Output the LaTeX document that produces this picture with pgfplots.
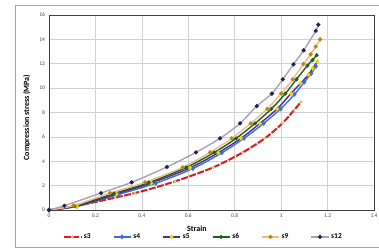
\documentclass[border=0pt]{standalone}
\usepackage{fontspec}
\setmainfont{Carlito}
\usepackage{pgfplots}
\pgfplotsset{compat=1.18}
\definecolor{frameblue}{HTML}{8FAACB}
\definecolor{sthree}{HTML}{D91C1C}
\definecolor{sthreem}{HTML}{9BBB59}
\definecolor{sfour}{HTML}{3C6FD0}
\definecolor{sfive}{HTML}{4B2C8C}
\definecolor{sfivem}{HTML}{F2CC0C}
\definecolor{ssix}{HTML}{1D611D}
\definecolor{snine}{HTML}{F2B98A}
\definecolor{sninem}{HTML}{B8860B}
\definecolor{stwelve}{HTML}{ABA0B5}
\definecolor{stwelvem}{HTML}{1C2452}
\begin{document}
\begin{tikzpicture}[x=1pt,y=1pt]
\useasboundingbox (0,0) rectangle (379,251);
\draw[frameblue, line width=0.8pt] (15,3.5) rectangle (390,245.3);
\begin{axis}[
  scale only axis, width=325pt, height=195pt,
  at={(49pt,41pt)}, anchor=south west,
  xmin=0, xmax=1.4, ymin=0, ymax=16,
  xtick={0,0.2,0.4,0.6,0.8,1,1.2,1.4},
  ytick={0,2,4,6,8,10,12,14,16},
  xticklabels={0,0.2,0.4,0.6,0.8,1,1.2,1.4},
  grid=major, major grid style={black!18, line width=0.6pt},
  tick style={draw=none},
  axis line style={black!75, line width=0.8pt},
  ticklabel style={font=\fontsize{5.5}{6}\selectfont, text=black!75},
  /pgf/number format/assume math mode=true,
  xticklabel style={yshift=-0.5pt},
  yticklabel style={xshift=-0.5pt},
  xlabel={Strain}, ylabel={Compression stress (MPa)},
  label style={font=\bfseries\fontsize{8}{9}\selectfont},
  xlabel style={at={(axis description cs:0.455,-0.097)}, anchor=center},
  ylabel style={at={(axis description cs:-0.068,0.474)}, anchor=center, rotate=0},
  legend columns=6,
  legend style={draw=none, fill=none, at={(axis description cs:0.5,-0.138)}, anchor=center,
    font=\bfseries\fontsize{7.5}{8}\selectfont, /tikz/every even column/.append style={column sep=0pt}},
  every axis plot/.append style={smooth, line width=1.4pt},
]
% s3
\addplot[sthree, line width=2pt, dash pattern=on 7pt off 1.5pt, mark=*, mark size=1.3pt,
  mark options={solid, fill=white, draw=sthreem, line width=0.5pt}] coordinates {
(0,0)(0.11,0.3)(0.37,1.39)(0.543,2.35)(0.708,3.5)(0.834,4.72)(0.931,5.9)(1.005,7.11)(1.056,8.2)(1.086,8.88)};
% s4
\addplot[sfour, mark=diamond*, mark size=1.5pt, mark options={solid, fill=sfour, draw=sfour}] coordinates {
(0,0)(0.12,0.3)(0.3,1.28)(0.46,2.2)(0.62,3.4)(0.745,4.7)(0.84,5.88)(0.925,7.11)(0.998,8.3)(1.058,9.5)(1.1,10.5)(1.13,11.2)(1.15,11.8)};
% s5
\addplot[sfive, mark=diamond*, mark size=1.5pt, mark options={solid, fill=sfivem, draw=sfivem}] coordinates {
(0,0)(0.12,0.32)(0.29,1.32)(0.44,2.22)(0.607,3.45)(0.729,4.7)(0.827,5.88)(0.909,7.11)(0.983,8.3)(1.043,9.57)(1.084,10.4)(1.118,11.1)(1.136,11.63)(1.156,12.17)};
% s6
\addplot[ssix, mark=*, mark size=1.2pt, mark options={solid, fill=ssix, draw=ssix}] coordinates {
(0,0)(0.11,0.33)(0.28,1.35)(0.43,2.25)(0.59,3.48)(0.712,4.72)(0.806,5.88)(0.888,7.11)(0.958,8.3)(1.018,9.55)(1.066,10.72)(1.113,11.85)(1.135,12.3)(1.153,12.7)};
% s9
\addplot[snine, mark=*, mark size=1.3pt, mark options={solid, fill=sninem, draw=sninem}] coordinates {
(0,0)(0.105,0.35)(0.263,1.39)(0.414,2.27)(0.576,3.5)(0.694,4.73)(0.787,5.88)(0.869,7.11)(0.94,8.3)(1.0,9.55)(1.05,10.72)(1.096,11.98)(1.127,12.77)(1.149,13.4)(1.168,14.0)};
% s12
\addplot[stwelve, mark=*, mark size=1.3pt, mark options={solid, fill=stwelvem, draw=stwelvem}] coordinates {
(0,0)(0.066,0.35)(0.224,1.39)(0.356,2.27)(0.508,3.53)(0.633,4.73)(0.737,5.88)(0.823,7.11)(0.895,8.53)(0.96,9.55)(1.007,10.72)(1.053,11.95)(1.097,13.1)(1.149,14.7)(1.16,15.2)};
\legend{\makebox[27pt][l]{s3},\makebox[27pt][l]{s4},\makebox[27pt][l]{s5},\makebox[27pt][l]{s6},\makebox[27pt][l]{s9},\makebox[27pt][l]{s12}}
\end{axis}
\end{tikzpicture}
\end{document}
